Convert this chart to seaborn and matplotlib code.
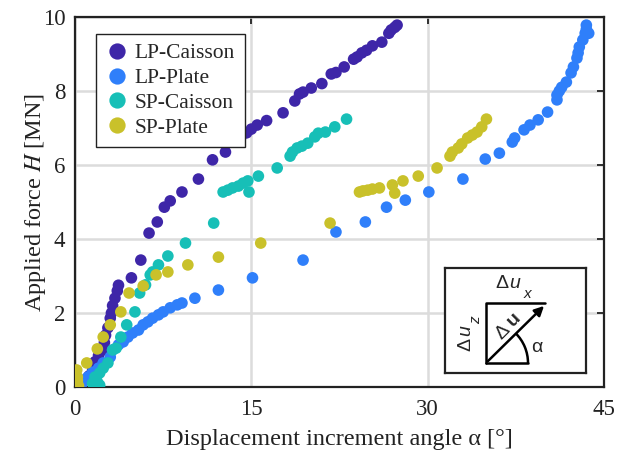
import numpy as np
import pandas as pd
import matplotlib
matplotlib.use("Agg")
import matplotlib.pyplot as plt
import seaborn as sns
from matplotlib.patches import Arc

# データ
lp_caisson_a = [0.2, 0.5, 0.9, 1.2, 1.5, 1.7, 2.0, 2.4, 2.5, 2.6, 2.8, 3.0, 3.1, 3.2, 3.4, 3.6, 3.7,
                4.8, 5.6, 6.3, 7.0, 7.6, 8.1, 9.1, 10.5, 11.7, 12.8, 14.1, 14.6, 15.0, 15.5, 16.3,
                17.7, 18.7, 19.1, 19.4, 20.1, 21.0, 21.8, 22.2, 22.9, 23.7, 24.0, 24.4, 24.8, 25.3,
                26.1, 26.7, 26.9, 27.2, 27.4]
lp_caisson_h = [0.02, 0.1, 0.2, 0.3, 0.45, 0.68, 0.85, 1.0, 1.2, 1.4, 1.6, 1.86, 2.0, 2.2, 2.4, 2.6, 2.75,
                2.95, 3.43, 4.16, 4.46, 4.86, 5.03, 5.27, 5.62, 6.14, 6.35, 6.75, 6.87, 6.97, 7.08, 7.2,
                7.41, 7.73, 7.92, 7.97, 8.08, 8.2, 8.46, 8.5, 8.65, 8.86, 8.92, 9.03, 9.1, 9.22,
                9.32, 9.56, 9.65, 9.72, 9.78]

lp_plate_a = [0.1, 0.25, 0.6, 0.85, 1.1, 1.5, 2.0, 2.4, 3.0, 3.2, 3.7, 4.1, 4.5, 4.9, 5.4, 5.8, 6.2,
              6.6, 7.1, 7.5, 8.1, 8.7, 9.1, 10.2, 12.2, 15.1, 19.4, 22.2, 24.7, 26.5, 28.1, 30.1,
              33.0, 34.9, 36.1, 37.2, 37.4, 38.2, 38.7, 39.4, 40.2, 41.0, 41.0, 41.2, 41.4, 41.8,
              42.2, 42.4, 42.7, 42.8, 42.9, 43.2, 43.4, 43.5, 43.7, 43.5]
lp_plate_h = [0.0, 0.05, 0.1, 0.19, 0.27, 0.4, 0.51, 0.65, 0.81, 1.0, 1.14, 1.22, 1.35, 1.46, 1.54, 1.68, 1.76,
              1.86, 1.95, 2.03, 2.14, 2.22, 2.27, 2.4, 2.62, 2.95, 3.43, 4.19, 4.46, 4.86, 5.05, 5.27,
              5.62, 6.16, 6.32, 6.62, 6.73, 6.95, 7.08, 7.22, 7.43, 7.76, 7.89, 8.0, 8.1, 8.24,
              8.49, 8.65, 8.89, 9.03, 9.19, 9.38, 9.56, 9.67, 9.56, 9.78]

sp_caisson_a = [1.5, 2.1, 1.9, 1.7, 2.1, 2.4, 2.8, 3.2, 3.5, 3.9, 4.4, 5.1, 5.5, 6.0, 6.4, 6.6, 7.1,
                7.9, 9.4, 11.8, 12.6, 13.0, 13.4, 13.9, 14.3, 14.7, 14.8, 15.6, 17.2, 18.3, 18.5,
                18.9, 19.3, 19.8, 20.4, 20.7, 21.3, 22.1, 23.1]
sp_caisson_h = [0.1, 0.05, 0.14, 0.27, 0.38, 0.51, 0.65, 1.0, 1.05, 1.35, 1.68, 2.03, 2.54, 2.76, 3.03, 3.11, 3.3,
                3.54, 3.89, 4.43, 5.27, 5.32, 5.38, 5.43, 5.51, 5.57, 5.27, 5.7, 5.92, 6.24, 6.35,
                6.46, 6.51, 6.59, 6.76, 6.86, 6.89, 7.03, 7.24]

sp_plate_a = [0.3, 0.15, 0.2, 0.15, 0.2, 1.0, 1.9, 2.4, 3.0, 3.9, 4.6, 5.8, 6.9, 7.9, 9.6, 12.2, 15.8,
              21.7, 24.2, 24.5, 24.9, 25.3, 25.9, 27.0, 27.2, 27.9, 29.2, 30.8, 31.9, 32.1, 32.6,
              32.9, 33.4, 33.8, 34.2, 34.6, 35.0]
sp_plate_h = [0.03, 0.1, 0.27, 0.46, 0.18, 0.65, 1.03, 1.35, 1.68, 2.03, 2.54, 2.73, 3.03, 3.11, 3.3, 3.51, 3.89,
              4.43, 5.27, 5.3, 5.32, 5.35, 5.38, 5.46, 5.24, 5.57, 5.7, 5.92, 6.24, 6.35, 6.46,
              6.57, 6.73, 6.81, 6.89, 7.03, 7.24]

series = ["LP-Caisson", "LP-Plate", "SP-Caisson", "SP-Plate"]
colors = ["#3e26a8", "#2f7ffa", "#17bfb7", "#c9c12a"]

df = pd.concat([
    pd.DataFrame({"alpha": lp_caisson_a, "H": lp_caisson_h, "case": series[0]}),
    pd.DataFrame({"alpha": lp_plate_a, "H": lp_plate_h, "case": series[1]}),
    pd.DataFrame({"alpha": sp_caisson_a, "H": sp_caisson_h, "case": series[2]}),
    pd.DataFrame({"alpha": sp_plate_a, "H": sp_plate_h, "case": series[3]}),
], ignore_index=True)

sns.set_style("white")
plt.rcParams["font.family"] = ["Liberation Serif", "DejaVu Serif"]
plt.rcParams["mathtext.fontset"] = "stix"

fig = plt.figure(figsize=(6.27, 4.53), dpi=100)
ax = fig.add_axes([0.1196, 0.1457, 0.8437, 0.8168])

sns.scatterplot(data=df, x="alpha", y="H", hue="case", hue_order=series,
                palette=dict(zip(series, colors)), s=70, linewidth=0, ax=ax, zorder=3)

ax.set_xlim(0, 45)
ax.set_ylim(0, 10)
ax.set_xticks([0, 15, 30, 45])
ax.set_yticks([0, 2, 4, 6, 8, 10])
ax.grid(True, color="#dcdcdc", linewidth=1.8)
ax.set_axisbelow(True)
ax.tick_params(direction="in", top=True, right=True, length=5, width=1.3,
               labelsize=16.5, colors="#222222")
ax.tick_params(axis="x", pad=9)
ax.tick_params(axis="y", pad=7)
for sp in ax.spines.values():
    sp.set_linewidth(1.6)
    sp.set_color("#222222")
ax.set_xlabel("Displacement increment angle α [°]", fontsize=17.5, color="#222222", labelpad=6)
ax.set_ylabel("Applied force $\\mathit{H}$ [MN]", fontsize=17.5, color="#222222", labelpad=-4)

leg = ax.legend(loc="upper left", bbox_to_anchor=(0.04, 0.955), fontsize=15.5,
                fancybox=False, edgecolor="#222222", framealpha=1,
                handlelength=1.0, handletextpad=0.35, borderpad=0.45, labelspacing=0.22,
                markerscale=1.4, borderaxespad=0)
leg.get_frame().set_linewidth(1.0)

# 挿入図（変位増分角の定義）
ins = fig.add_axes([445 / 627, (453 - 373) / 453, 141 / 627, 105 / 453])
ins.set_xlim(445, 586)
ins.set_ylim(373, 268)
ins.set_xticks([])
ins.set_yticks([])
for sp in ins.spines.values():
    sp.set_linewidth(1.6)
    sp.set_color("#222222")
ox, oy = 486, 363
ins.plot([ox, ox, 545], [oy, 303, 303], color="black", lw=1.8)
ins.plot([ox, 528], [oy, oy], color="black", lw=1.8)
ins.annotate("", xy=(546, 304), xytext=(ox, oy),
             arrowprops=dict(arrowstyle="-|>", color="black", lw=1.8, mutation_scale=14))
ins.add_patch(Arc((ox, oy), 84, 84, theta1=-45, theta2=0, color="black", lw=1.8))
sans = ["Liberation Sans", "DejaVu Sans"]
fs = 14
# Δu_x
ins.text(502, 284, "Δ", ha="center", va="center", fontsize=fs, family=sans)
ins.text(515, 284, "u", ha="center", va="center", fontsize=fs, family=sans, style="italic")
ins.text(527, 294, "x", ha="center", va="center", fontsize=11, family=sans, style="italic")
# Δu_z（縦書き）
ins.text(466, 344, "Δ", ha="center", va="center", fontsize=fs, family=sans, rotation=90)
ins.text(466, 331, "u", ha="center", va="center", fontsize=fs, family=sans, style="italic", rotation=90)
ins.text(476, 320, "z", ha="center", va="center", fontsize=11, family=sans, style="italic", rotation=90)
# Δu（45度）
ins.text(503, 332, "Δ", ha="center", va="center", fontsize=fs, family=sans, rotation=45)
ins.text(514, 320, "u", ha="center", va="center", fontsize=fs, family=sans, weight="bold", rotation=45)
ins.text(537, 347, "α", ha="center", va="center", fontsize=fs, family=sans)

fig.savefig("out.png", dpi=100)
